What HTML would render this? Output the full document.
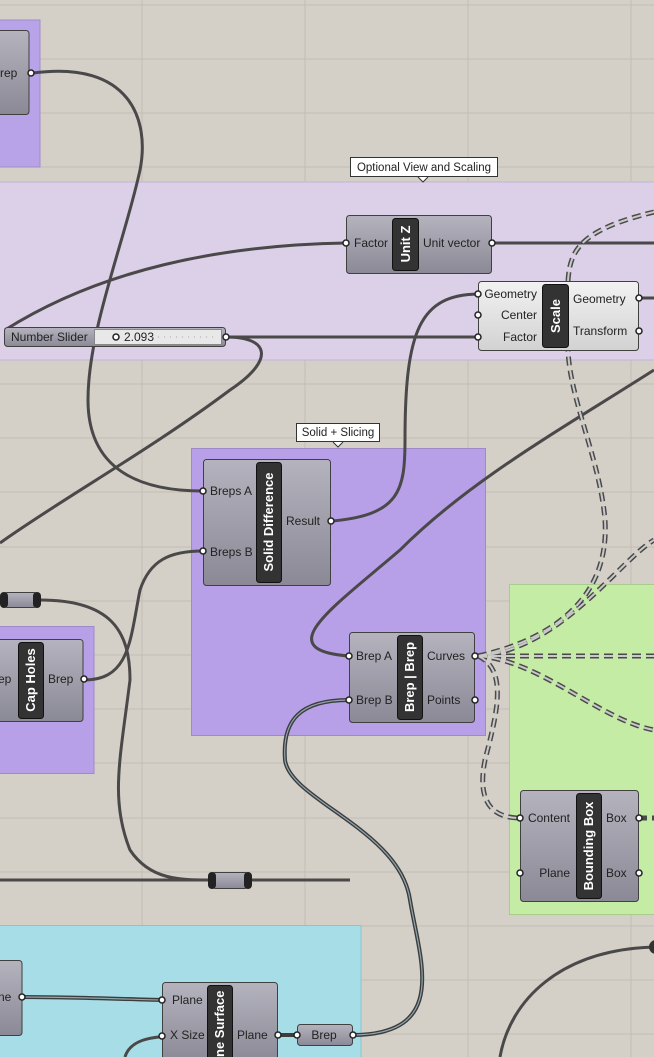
<!DOCTYPE html>
<html><head><meta charset="utf-8"><style>
html,body{margin:0;padding:0;background:#d4d0c8;}
svg{display:block;font-family:"Liberation Sans",sans-serif;}
.t{font-size:12px;fill:#222;}
.lb{font-size:13px;fill:#fff;font-weight:bold;}
</style></head><body>
<svg width="654" height="1057" viewBox="0 0 654 1057" xmlns="http://www.w3.org/2000/svg">
<defs>
<linearGradient id="ng" x1="0" y1="0" x2="0" y2="1"><stop offset="0" stop-color="#b4b3be"/><stop offset="1" stop-color="#8a8995"/></linearGradient>
<linearGradient id="wg" x1="0" y1="0" x2="0" y2="1"><stop offset="0" stop-color="#f2f2f2"/><stop offset="1" stop-color="#d2d2d2"/></linearGradient>
</defs>
<rect width="654" height="1057" fill="#d4d0c8"/>
<g stroke="#c2beb6" stroke-width="1">
<path d="M142 0V1057M305 0V1057M468 0V1057M631 0V1057"/>
<path d="M0 5H654M0 59H654M0 113H654M0 167H654M0 222H654M0 276H654M0 330H654M0 384H654M0 438H654M0 492H654M0 547H654M0 601H654M0 655H654M0 709H654M0 763H654M0 818H654M0 872H654M0 926H654M0 980H654M0 1034H654"/>
</g>
<rect x="-1" y="20" width="41" height="147" fill="#b9a3e8" stroke="#a08cc8"/>
<rect x="-1" y="182" width="660" height="178" fill="#dbd0ea" fill-opacity="0.95" stroke="#c0b4d4"/>
<rect x="191.5" y="448.5" width="294" height="287" fill="#b7a0e8" stroke="#9e8ac8"/>
<rect x="-1" y="626.5" width="95" height="147" fill="#b7a0e8" stroke="#9e8ac8"/>
<rect x="509.5" y="584.5" width="150" height="330" fill="#c4eca4" stroke="#a8cc8c"/>
<rect x="-1" y="925.5" width="362" height="140" fill="#a6dde6" stroke="#8cc4cc"/>
<rect x="350.5" y="157.5" width="147" height="19" fill="#fff" stroke="#333"/>
<path d="M418 177l5 5 5-5" fill="#fff" stroke="#333"/>
<text x="424" y="171" text-anchor="middle" class="t" style="font-size:11.5px">Optional View and Scaling</text>
<rect x="296.5" y="423.5" width="83" height="18" fill="#fff" stroke="#333"/>
<path d="M333 442l5 5 5-5" fill="#fff" stroke="#333"/>
<text x="338" y="436" text-anchor="middle" class="t" style="font-size:11.5px">Solid + Slicing</text>
<g fill="none" stroke="#4a4848" stroke-width="3">
<path d="M33 73C130 60 150 120 140 170C125 240 88 330 88 400C88 470 140 491 203 491"/>
<path d="M5 330C100 270 220 245 346 243"/>
<path d="M225 337L478 337"/>
<path d="M226 337C270 337 275 360 230 390C150 450 60 500 0 543"/>
<path d="M491 243H654"/>
<path d="M638 298H654"/>
<path d="M332 521C400 515 405 490 405 440C405 330 420 295 478 294"/>
<path d="M654 370C560 430 470 480 400 550C330 610 270 650 349 656"/>
<path d="M84 680C130 680 130 640 140 590C150 560 170 551 203 551"/>
<path d="M40 600C110 600 130 630 130 680C120 760 110 800 130 850C150 880 180 880 210 880"/>
<path d="M0 880H350"/>
<path d="M654 947C560 950 510 1000 500 1057"/>
<path d="M180 1036C150 1036 130 1040 125 1057"/>
</g>
<g fill="none" stroke="#3c3c3c" stroke-width="4">
<path d="M22 997C70 997 120 999 162 1000"/>
<path d="M277 1035H297"/>
<path d="M352 1035C450 1035 420 960 410 900C400 830 290 800 285 760C282 720 300 700 349 700"/>
</g>
<g fill="none" stroke="#8fa6b0" stroke-width="1.2">
<path d="M22 997C70 997 120 999 162 1000"/>
<path d="M352 1035C450 1035 420 960 410 900C400 830 290 800 285 760C282 720 300 700 349 700"/>
</g>
<g fill="none" stroke="#4a4a4a" stroke-width="5" stroke-dasharray="9 5">
<path d="M478 656C560 650 620 560 654 540"/>
<path d="M478 656H654"/>
<path d="M478 656C540 660 600 720 654 730"/>
<path d="M478 656C510 670 495 720 485 760C475 810 500 818 520 818"/>
<path d="M478 656C550 640 610 600 605 520C600 460 570 400 568 350"/>
<path d="M568 281C570 250 580 230 654 212"/>
<path d="M638 818H654"/>
</g>
<g fill="none" stroke="#c9c9c9" stroke-width="2" stroke-dasharray="9 5">
<path d="M478 656C560 650 620 560 654 540"/>
<path d="M478 656H654"/>
<path d="M478 656C540 660 600 720 654 730"/>
<path d="M478 656C510 670 495 720 485 760C475 810 500 818 520 818"/>
<path d="M478 656C550 640 610 600 605 520C600 460 570 400 568 350"/>
<path d="M568 281C570 250 580 230 654 212"/>
</g>
<g stroke="#404040" stroke-width="1">
<rect x="-5" y="30.5" width="34" height="84" rx="3" fill="url(#ng)"/>
<rect x="346.5" y="215.5" width="145" height="58" rx="3" fill="url(#ng)"/>
<rect x="478.5" y="281.5" width="160" height="69" rx="3" fill="url(#wg)"/>
<rect x="203.5" y="459.5" width="127" height="126" rx="3" fill="url(#ng)"/>
<rect x="349.5" y="632.5" width="125" height="90" rx="3" fill="url(#ng)"/>
<rect x="-5" y="639.5" width="88" height="82" rx="3" fill="url(#ng)"/>
<rect x="520.5" y="790.5" width="118" height="111" rx="3" fill="url(#ng)"/>
<rect x="-5" y="960.5" width="27" height="75" rx="3" fill="url(#ng)"/>
<rect x="162.5" y="982.5" width="115" height="80" rx="3" fill="url(#ng)"/>
<rect x="297.5" y="1024.5" width="55" height="21" rx="3" fill="url(#ng)"/>
<rect x="0.5" y="592.5" width="40" height="15" rx="7" fill="url(#ng)"/>
<rect x="208.5" y="872.5" width="43" height="16" rx="7" fill="url(#ng)"/>
<rect x="4.5" y="327.5" width="221" height="19" rx="3" fill="url(#ng)"/>
<rect x="94.5" y="329.5" width="127" height="15" fill="#e8e8e8" stroke="#888"/>
</g>
<g fill="#222">
<rect x="0" y="592" width="8" height="16" rx="4"/><rect x="33" y="592" width="8" height="16" rx="4"/>
<rect x="208" y="872" width="8" height="17" rx="4"/><rect x="244" y="872" width="8" height="17" rx="4"/>
</g>
<g fill="#333" stroke="#111">
<rect x="392.5" y="218.5" width="26" height="52" rx="3"/>
<rect x="542.5" y="284.5" width="26" height="63" rx="3"/>
<rect x="256.5" y="462.5" width="25" height="120" rx="3"/>
<rect x="397.5" y="635.5" width="25" height="84" rx="3"/>
<rect x="18.5" y="642.5" width="25" height="76" rx="3"/>
<rect x="576.5" y="793.5" width="25" height="105" rx="3"/>
<rect x="207.5" y="985.5" width="25" height="80" rx="3"/>
</g>
<g class="lb">
<text transform="translate(410,244) rotate(-90)" text-anchor="middle" class="lb">Unit Z</text>
<text transform="translate(560,316) rotate(-90)" text-anchor="middle" class="lb">Scale</text>
<text transform="translate(273,522) rotate(-90)" text-anchor="middle" class="lb">Solid Difference</text>
<text transform="translate(414,677) rotate(-90)" text-anchor="middle" class="lb">Brep | Brep</text>
<text transform="translate(35,680) rotate(-90)" text-anchor="middle" class="lb">Cap Holes</text>
<text transform="translate(593,846) rotate(-90)" text-anchor="middle" class="lb">Bounding Box</text>
<text transform="translate(224,1057) rotate(-90)" text-anchor="start" class="lb">ne Surface</text>
</g>
<g class="t">
<text x="0" y="77">rep</text>
<text x="354" y="247">Factor</text><text x="423" y="247">Unit vector</text>
<text x="537" y="298" text-anchor="end">Geometry</text><text x="537" y="319" text-anchor="end">Center</text><text x="537" y="341" text-anchor="end">Factor</text>
<text x="573" y="303">Geometry</text><text x="573" y="335">Transform</text>
<text x="210" y="495">Breps A</text><text x="210" y="556">Breps B</text><text x="286" y="525">Result</text>
<text x="356" y="660">Brep A</text><text x="356" y="704">Brep B</text><text x="427" y="660">Curves</text><text x="427" y="704">Points</text>
<text x="-2" y="683">ep</text><text x="48" y="683">Brep</text>
<text x="570" y="822" text-anchor="end">Content</text><text x="570" y="877" text-anchor="end">Plane</text>
<text x="606" y="822">Box</text><text x="606" y="877">Box</text>
<text x="-2" y="1001">ne</text>
<text x="172" y="1004">Plane</text><text x="170" y="1039">X Size</text><text x="237" y="1039">Plane</text>
<text x="324" y="1039" text-anchor="middle">Brep</text>
<text x="11" y="341">Number Slider</text>
<text x="124" y="341">2.093</text>
</g>
<circle cx="116" cy="337" r="3" fill="#fff" stroke="#222" stroke-width="1.5"/>
<path d="M140 337H218" stroke="#aaa" stroke-dasharray="1 5"/>
<g fill="#fff" stroke="#222" stroke-width="1.5">
<circle cx="31" cy="73" r="3"/>
<circle cx="346" cy="243" r="3"/><circle cx="492" cy="243" r="3"/>
<circle cx="478" cy="294" r="3"/><circle cx="478" cy="315" r="3"/><circle cx="478" cy="337" r="3"/>
<circle cx="639" cy="298" r="3"/><circle cx="639" cy="331" r="3"/>
<circle cx="226" cy="337" r="3"/>
<circle cx="203" cy="491" r="3"/><circle cx="203" cy="551" r="3"/><circle cx="331" cy="521" r="3"/>
<circle cx="349" cy="656" r="3"/><circle cx="349" cy="700" r="3"/><circle cx="475" cy="656" r="3"/><circle cx="475" cy="700" r="3"/>
<circle cx="84" cy="679" r="3"/>
<circle cx="520" cy="818" r="3"/><circle cx="520" cy="873" r="3"/><circle cx="639" cy="818" r="3"/><circle cx="639" cy="873" r="3"/>
<circle cx="22" cy="997" r="3"/><circle cx="162" cy="1000" r="3"/><circle cx="162" cy="1036" r="3"/><circle cx="278" cy="1035" r="3"/>
<circle cx="297" cy="1035" r="3"/><circle cx="353" cy="1035" r="3"/>
</g>
<circle cx="656" cy="947" r="7" fill="#333"/>
</svg>
</body></html>
